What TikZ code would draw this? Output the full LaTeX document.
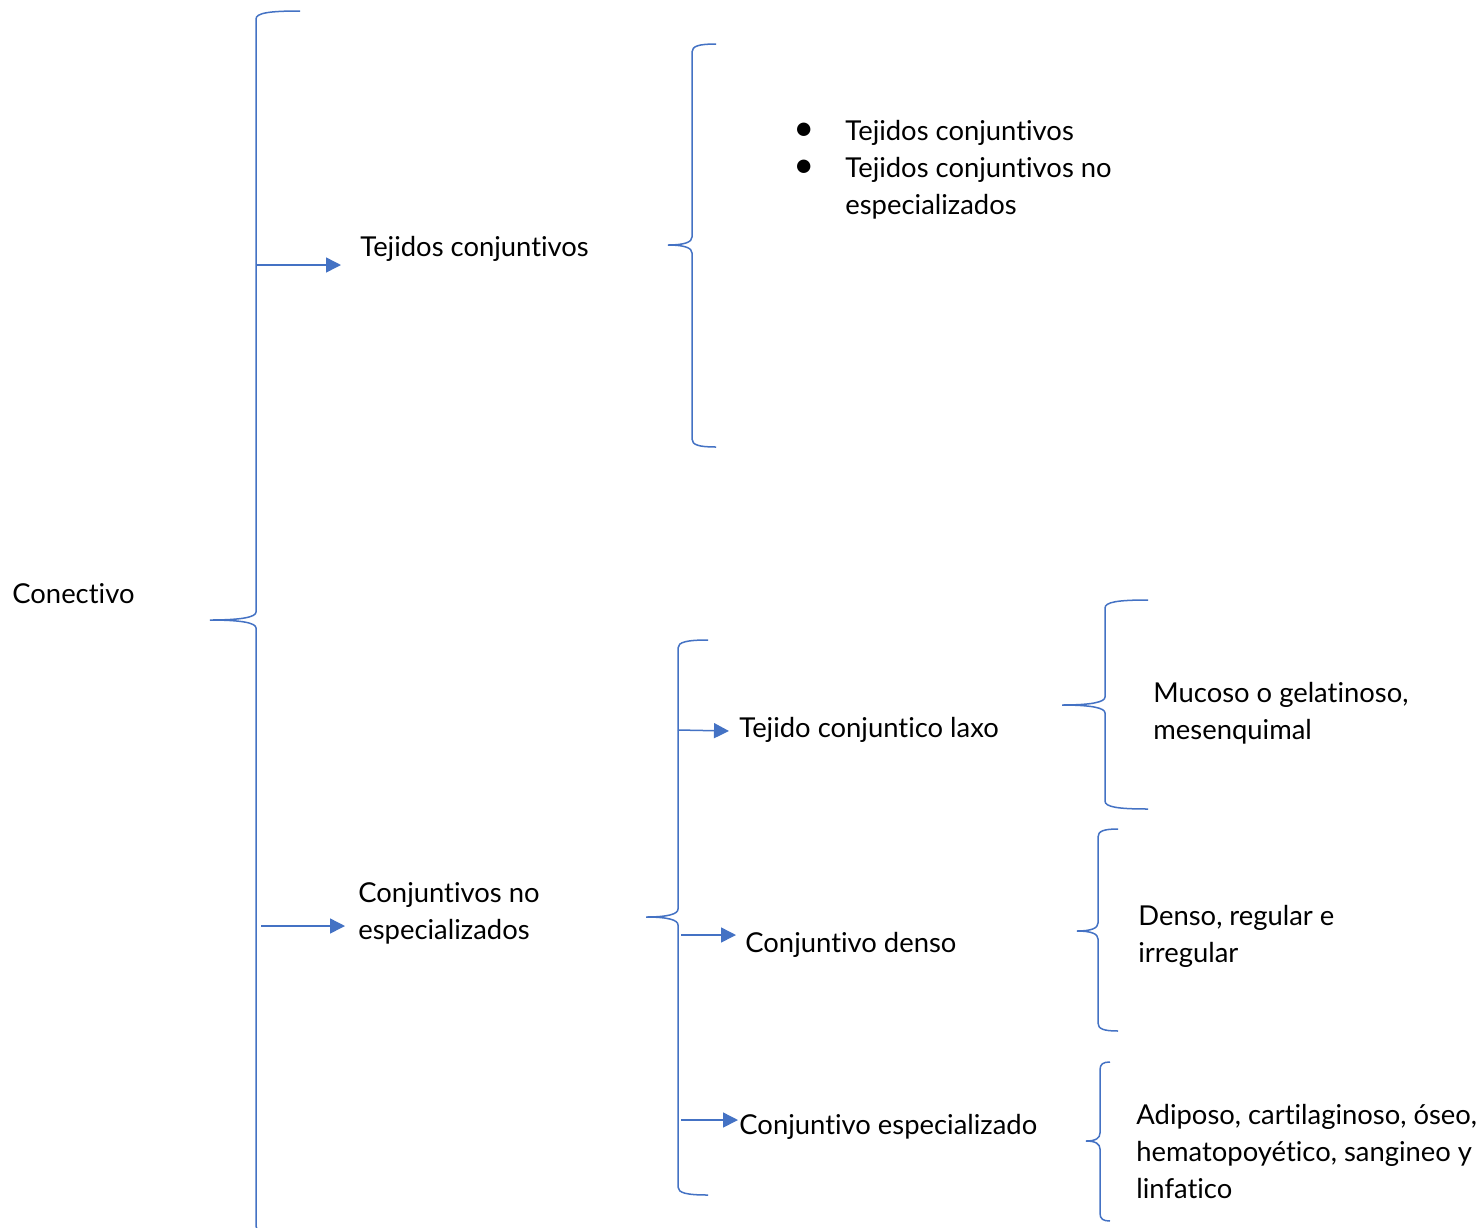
\documentclass[tikz,border=0pt]{standalone}
\usepackage{fontspec}
\setmainfont{Lato}[Ligatures=NoCommon]
\usetikzlibrary{arrows.meta}
\definecolor{bl}{HTML}{4472C4}
% brace: X, top y, tip y, bottom y, end x, tip x
\newcommand{\officebrace}[6]{%
  \draw[bracestyle] (#5,#2) .. controls ({#1+(#5-#1)*0.3},#2) and (#1,{#2+2}) .. (#1,{#2+8})
    -- (#1,{#3-8}) .. controls (#1,{#3-3}) and ({#1-(#1-#6)*0.3},#3) .. (#6,#3)
    .. controls ({#1-(#1-#6)*0.3},#3) and (#1,{#3+3}) .. (#1,{#3+8})
    -- (#1,{#4-8}) .. controls (#1,{#4-2}) and ({#1+(#5-#1)*0.3},#4) .. (#5,#4);}
\newcommand{\bul}{\makebox[24pt][l]{\hspace*{-2pt}\fontsize{18}{16}\selectfont\textbullet}}
\tikzset{
  bracestyle/.style={draw=bl, line width=0.75pt},
  arr/.style={draw=bl, line width=0.75pt, -{Triangle[length=7.5pt,width=7.5pt]}, bl},
  txt/.style={inner sep=0pt, anchor=west, align=left, font=\fontsize{13.7}{18.5}\selectfont},
}
\begin{document}
\begin{tikzpicture}[x=0.5pt,y=-0.5pt]
\useasboundingbox (0,0) rectangle (1484,1227);
\clip (0,0) rectangle (1484,1227);
\fill[white] (0,0) rectangle (1484,1227);

% braces
\officebrace{256}{11}{620}{1234}{300}{210}
\officebrace{692}{44}{245}{447}{716}{668}
\officebrace{678}{640}{917}{1195}{708}{646}
\officebrace{1105}{600}{705}{809}{1148}{1062}
\officebrace{1098}{829}{931}{1031}{1118}{1077}
\officebrace{1100}{1062}{1141}{1221}{1110}{1086}

% texts
\node[txt] (conectivo) at (12,594) {Conectivo};
\node[txt] (tc) at (360,249) {Tejidos conjuntivos};
\node[txt] (lista) at (797,170) {\bul Tejidos conjuntivos\\
  \bul Tejidos conjuntivos no\\
  \hspace*{24pt}especializados};
\node[txt] (cne) at (358,913) {Conjuntivos no\\especializados};
\node[txt] (laxo) at (739,730) {Tejido conjuntico laxo};
\node[txt] (denso) at (745,945) {Conjuntivo denso};
\node[txt] (esp) at (739,1127) {Conjuntivo especializado};
\node[txt] (muc) at (1153,713) {Mucoso o gelatinoso,\\mesenquimal};
\node[txt] (den) at (1138,936) {Denso, regular e\\irregular};
\node[txt] (adi) at (1136,1152) {Adiposo, cartilaginoso, óseo,\\hematopoyético, sangineo y\\linfatico};

% arrows
\coordinate (s1) at (256,265); \coordinate (e1) at (341,265);
\coordinate (s2) at (261,926); \coordinate (e2) at (345,926);
\coordinate (s3) at (678,730); \coordinate (e3) at (729,731);
\coordinate (s4) at (681,935); \coordinate (e4) at (736,935);
\coordinate (s5) at (681,1120); \coordinate (e5) at (738,1120);
\draw[arr] (s1) -- (e1);
\draw[arr] (s2) -- (e2);
\draw[arr] (s3) -- (e3);
\draw[arr] (s4) -- (e4);
\draw[arr] (s5) -- (e5);
\end{tikzpicture}
\end{document}
